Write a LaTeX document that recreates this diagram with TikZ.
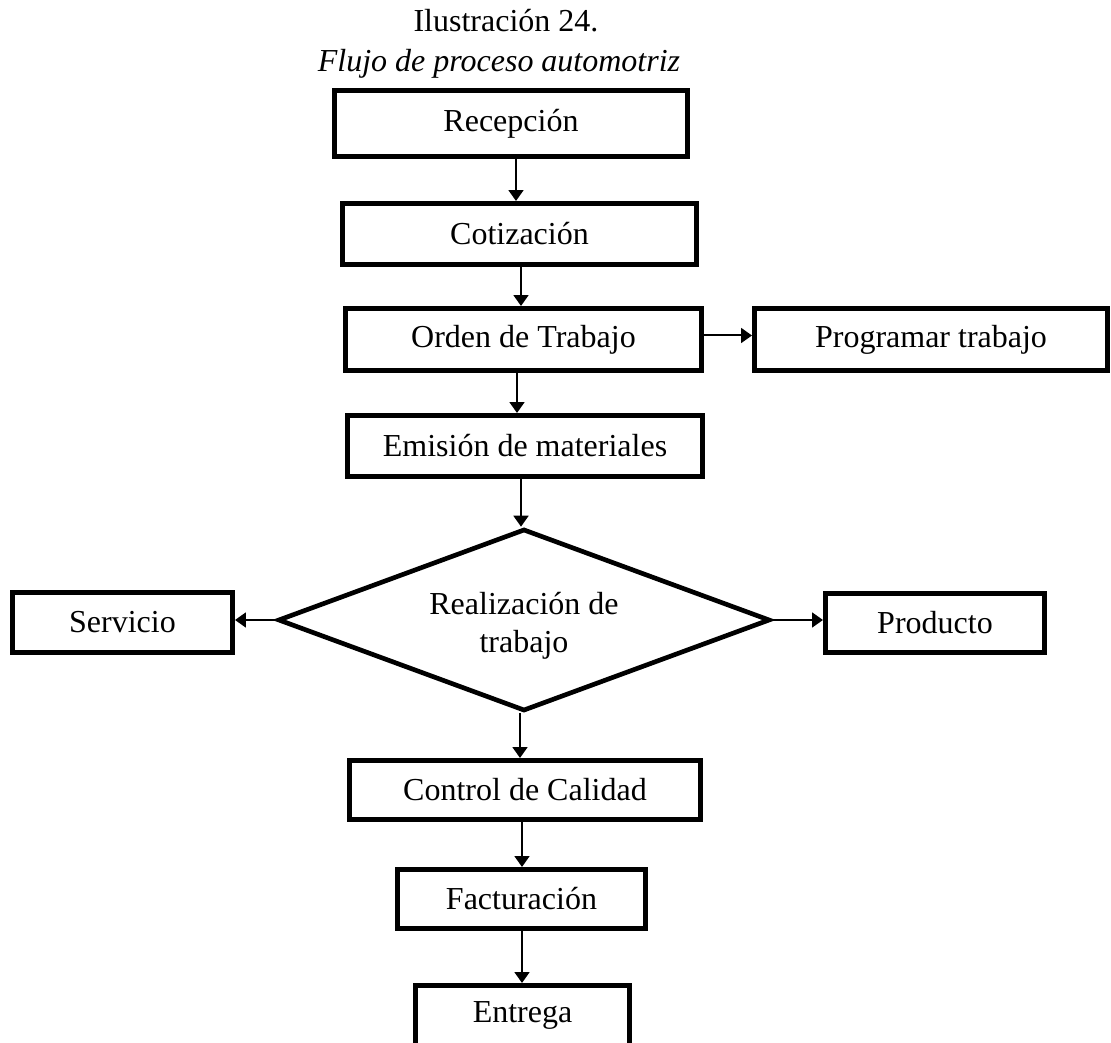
\documentclass[tikz,border=0pt]{standalone}
\usepackage{fontspec}
\setmainfont{Liberation Serif}
\usetikzlibrary{shapes.geometric,arrows.meta,calc}
\tikzset{
  sz/.style 2 args={minimum width=#1*0.375pt, minimum height=#2*0.375pt},
  stepbox/.style={draw=black, line width=1.7pt, rectangle, inner sep=0pt, fill=white,
    font=\fontsize{12pt}{14.25pt}\selectfont},
  decision/.style={draw=black, line width=1.75pt, diamond, inner sep=0pt},
  arr/.style={draw=black, line width=0.75pt, -{Triangle[length=4.1pt, width=5.6pt]}},
  lbl/.style={font=\fontsize{12pt}{14.25pt}\selectfont, inner sep=0pt}
}
\begin{document}
\begin{tikzpicture}[x=0.375pt, y=-0.375pt]
\useasboundingbox (0,0) rectangle (1111,1043);
% titles
\node[lbl, anchor=base] (t1) at (506,32) {Ilustración 24.};
\node[lbl, anchor=base] (t2) at (499,72) {\itshape Flujo de proceso automotriz};
% boxes
\node[stepbox, sz={353.5}{66.5}] (rec) at (511,123.5) {Recepción};
\node[stepbox, sz={354.5}{61.5}] (cot) at (519.5,234) {Cotización};
\node[stepbox, sz={356.5}{62.5}] (ord) at (523.5,339.5) {Orden de Trabajo};
\node[stepbox, sz={353.5}{62.5}] (prog) at (931,339.5) {Programar trabajo};
\node[stepbox, sz={355.5}{61.5}] (emi) at (525,446) {Emisión de materiales};
\node[decision, sz={492}{182}] (dia) at (524,620) {};
\node[lbl, align=center] (diat) at (524,626) {Realización de\\trabajo};
\node[stepbox, sz={220.5}{60.5}] (serv) at (122.5,622.5) {Servicio};
\node[stepbox, sz={219.5}{59.5}] (prod) at (935,623) {Producto};
\node[stepbox, sz={351.5}{59.5}] (ctl) at (525,790) {Control de Calidad};
\node[stepbox, sz={248.5}{59.5}] (fac) at (521.5,899) {Facturación};
\node[stepbox, sz={214.5}{60.5}] (ent) at (522.5,1015.5) {Entrega};
% connectors
\draw[arr] ($(rec.south)+(5,0)$) -- ($(cot.north)+(-3.5,0)$);
\draw[arr] ($(cot.south)+(1.5,0)$) -- ($(ord.north)+(-2.5,0)$);
\draw[arr] ($(ord.east)+(0,-4)$) -- ($(prog.west)+(0,-4)$);
\draw[arr] ($(ord.south)+(-6.5,0)$) -- ($(emi.north)+(-8,0)$);
\draw[arr] ($(emi.south)+(-4,0)$) -- ($(dia.north)+(-3,0)$);
\draw[arr] (dia.west) -- (dia.west -| serv.east);
\draw[arr] (dia.east) -- (dia.east -| prod.west);
\draw[arr] ($(dia.south)+(-4,0)$) -- ($(ctl.north)+(-5,0)$);
\draw[arr] ($(ctl.south)+(-3,0)$) -- ($(fac.north)+(0.5,0)$);
\draw[arr] ($(fac.south)+(0.5,0)$) -- ($(ent.north)+(-0.5,0)$);
\end{tikzpicture}
\end{document}
